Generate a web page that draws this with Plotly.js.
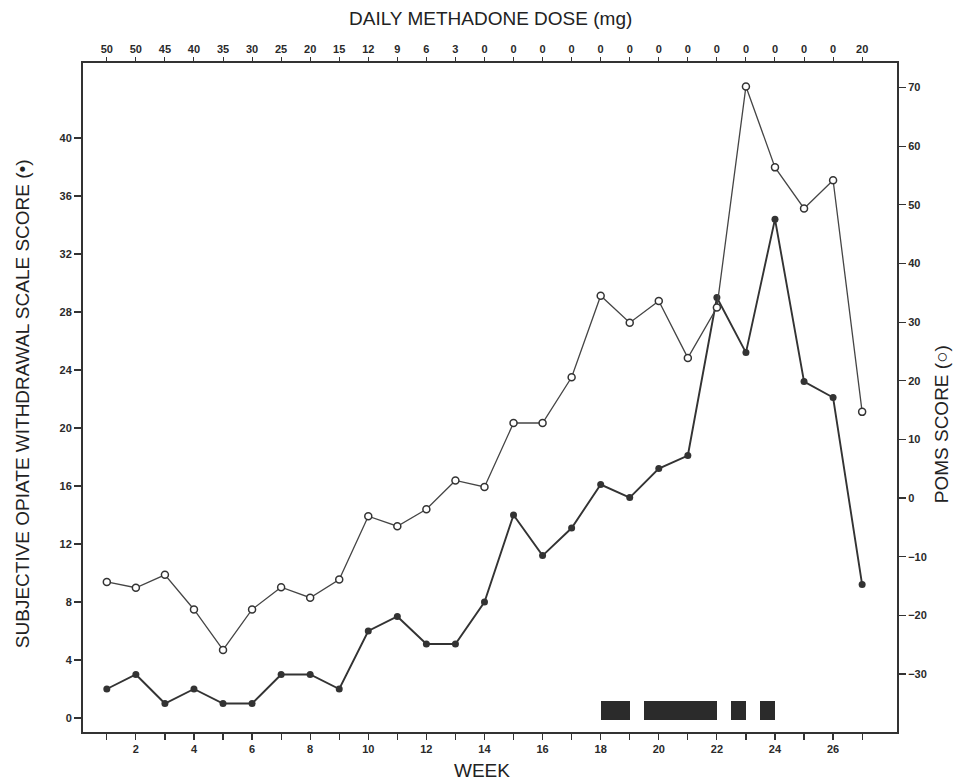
<!DOCTYPE html>
<html>
<head>
<meta charset="utf-8">
<script src="https://cdn.plot.ly/plotly-3.0.1.min.js"></script>
<style>html,body{margin:0;padding:0;background:#fff;}#chart{width:953px;height:782px;}</style>
</head>
<body>
<div id="chart"></div>
<script>
// ---- data ----
const weeks = [1,2,3,4,5,6,7,8,9,10,11,12,13,14,15,16,17,18,19,20,21,22,23,24,25,26,27];
const sowsScore = [2,3,1,2,1,1,3,3,2,6,7,5.1,5.1,8,14,11.2,13.1,16.1,15.2,17.2,18.1,29,25.2,34.4,23.2,22.1,9.2];
const pomsScore = [-14.3,-15.3,-13.1,-19,-25.9,-19,-15.2,-17,-13.9,-3.1,-4.8,-1.9,3,1.9,12.8,12.8,20.6,34.5,29.9,33.6,23.9,32.5,70.2,56.4,49.4,54.2,14.7];
const doseLabels = ['50','50','45','40','35','30','25','20','15','12','9','6','3','0','0','0','0','0','0','0','0','0','0','0','0','0','20'];
const weekLabels = ['','2','','4','','6','','8','','10','','12','','14','','16','','18','','20','','22','','24','','26',''];
const leftTicks = [0,4,8,12,16,20,24,28,32,36,40];
const rightTicks = [-30,-20,-10,0,10,20,30,40,50,60,70];
const blockStart = [18,19.5,22.5,23.5];
const blockEnd = [19,22,23,24];
const blockBase = -0.15;
const blockTop = 1.2;

const ink = '#333333';
const font = 'Liberation Sans, Arial, sans-serif';

const blockX = blockStart.map((s,i)=>(s+blockEnd[i])/2);
const blockW = blockStart.map((s,i)=>blockEnd[i]-s);
const blockH = blockStart.map(()=>blockTop-blockBase);

const tickFont = {size:11, color:'#2a2a2a', family:font, weight:'bold'};

const traces = [
  {
    type:'bar', x:blockX, y:blockH, base:blockStart.map(()=>blockBase), width:blockW,
    marker:{color:'#2b2b2b', line:{width:0}}, xaxis:'x', yaxis:'y', hoverinfo:'skip', showlegend:false
  },
  {
    type:'scatter', mode:'lines+markers', x:weeks, y:sowsScore, xaxis:'x', yaxis:'y',
    line:{color:ink, width:1.9}, marker:{color:ink, size:7, symbol:'circle'}, showlegend:false
  },
  {
    type:'scatter', mode:'lines+markers', x:weeks, y:pomsScore, xaxis:'x', yaxis:'y2',
    line:{color:'#454545', width:1.3}, marker:{color:'#ffffff', size:7, symbol:'circle', line:{color:ink, width:1.5}}, showlegend:false
  },
  {
    type:'scatter', mode:'markers', x:weeks, y:sowsScore, xaxis:'x2', yaxis:'y',
    marker:{opacity:0}, hoverinfo:'skip', showlegend:false
  }
];

const layout = {
  width:953, height:782, autosize:false,
  paper_bgcolor:'#ffffff', plot_bgcolor:'#ffffff',
  margin:{l:83, r:56, t:63, b:50, pad:0},
  font:{family:font, color:ink, size:12},
  bargap:0,
  xaxis:{
    range:[0.18,28.2], tickmode:'array', tickvals:weeks, ticktext:weekLabels,
    ticks:'outside', ticklen:6, tickwidth:1.2, tickcolor:ink,
    showline:true, linecolor:ink, linewidth:2, mirror:false,
    showgrid:false, zeroline:false, tickfont:tickFont
  },
  xaxis2:{
    overlaying:'x', side:'top', anchor:'y', matches:'x', range:[0.18,28.2],
    tickmode:'array', tickvals:weeks, ticktext:doseLabels,
    ticks:'outside', ticklen:4, tickwidth:1, tickcolor:ink,
    showline:true, linecolor:ink, linewidth:2,
    showgrid:false, zeroline:false, tickfont:tickFont
  },
  yaxis:{
    range:[-0.966,45.17], tickmode:'array', tickvals:leftTicks,
    ticks:'outside', ticklen:7, tickwidth:1.2, tickcolor:ink,
    showline:true, linecolor:ink, linewidth:2,
    showgrid:false, zeroline:false, tickfont:tickFont
  },
  yaxis2:{
    overlaying:'y', side:'right', anchor:'x', range:[-39.9,74.2], tickmode:'array', tickvals:rightTicks,
    ticks:'outside', ticklen:7, tickwidth:1.2, tickcolor:ink,
    showline:true, linecolor:ink, linewidth:2,
    showgrid:false, zeroline:false, tickfont:tickFont
  },
  annotations:[
    {text:'DAILY METHADONE DOSE (mg)', xref:'paper', yref:'paper', x:0.5, y:1, yshift:45, showarrow:false,
     xanchor:'center', yanchor:'middle', font:{size:19, color:'#222222', family:font}},
    {text:'WEEK', xref:'paper', yref:'paper', x:0.49, y:0, yshift:-38, showarrow:false,
     xanchor:'center', yanchor:'middle', font:{size:19, color:'#222222', family:font}},
    {text:'SUBJECTIVE OPIATE WITHDRAWAL SCALE SCORE (•)', xref:'paper', yref:'paper', x:0, xshift:-61, y:0.49,
     showarrow:false, textangle:-90, xanchor:'center', yanchor:'middle', font:{size:19, color:'#222222', family:font}},
    {text:'POMS SCORE (○)', xref:'paper', yref:'paper', x:1, xshift:44, y:0.46,
     showarrow:false, textangle:-90, xanchor:'center', yanchor:'middle', font:{size:19, color:'#222222', family:font}}
  ]
};

Plotly.newPlot('chart', traces, layout, {displayModeBar:false, staticPlot:true});
</script>
</body>
</html>
